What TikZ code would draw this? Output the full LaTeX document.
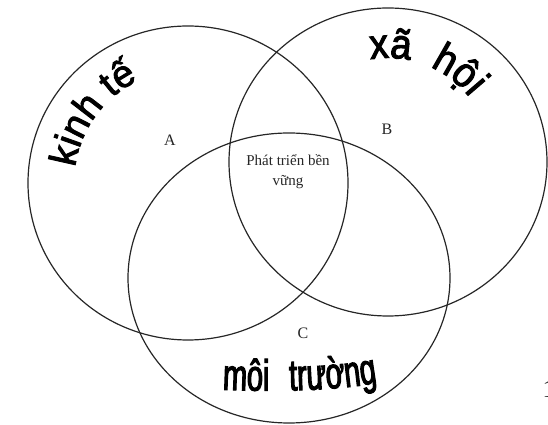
\documentclass[tikz,border=0pt]{standalone}
\usepackage{fontspec}
\setmainfont{Liberation Serif}
\newfontfamily\wordart[FakeBold=2.4]{Liberation Sans}
\newfontfamily\wordartxh[FakeStretch=0.9,FakeBold=2.4,WordSpace=2]{Liberation Sans}
\newfontfamily\wordartmt[FakeStretch=0.66,FakeBold=2.4,WordSpace=2.5]{Liberation Sans}
\usetikzlibrary{decorations.text}

\begin{document}
\begin{tikzpicture}[x=1pt,y=1pt,
    ring/.style={draw=black!85,line width=1.2pt},
    letter/.style={font=\fontsize{16}{16}\selectfont,text=black!85,inner sep=0pt},
    curved/.style={decorate,decoration={text along path,text align=center,text={#1}}}]
  \useasboundingbox (0,0) rectangle (548,425);
  \coordinate (cA) at (188,242);
  \coordinate (cB) at (388,263);
  \coordinate (cC) at (289,147);
  % the three sets
  \draw[ring] (cA) ellipse[x radius=160,y radius=157];
  \draw[ring] (cB) ellipse[x radius=159,y radius=154];
  \draw[ring] (cC) ellipse[x radius=161,y radius=145];
  % set names along the rims
  \path[curved={|\wordart\fontsize{38}{38}\selectfont|kinh tế},shift={(cA)}]
    (192:114) arc[start angle=192,end angle=96,radius=114];
  \path[curved={|\wordartxh\fontsize{42}{42}\selectfont|xã hội},shift={(cB)}]
    (104:104) arc[start angle=104,end angle=34,radius=104];
  \path[curved={|\wordartmt\fontsize{44}{44}\selectfont|môi trường}]
    (212,36) .. controls (260,33) and (335,33) .. (388,44);
  % labels
  \node[letter] (lblA) at (170,285) {A};
  \node[letter] (lblB) at (387,296) {B};
  \node[letter] (lblC) at (303,92) {C};
  \node[align=center,font=\fontsize{15}{20}\selectfont,text=black!85,inner sep=0pt]
    (core) at (288,253) {Phát triển bền\\vững};
  \node[anchor=base west,inner sep=0pt,font=\fontsize{25}{25}\selectfont,text=black!85]
    (pgnum) at (542.5,27) {1};
\end{tikzpicture}
\end{document}
